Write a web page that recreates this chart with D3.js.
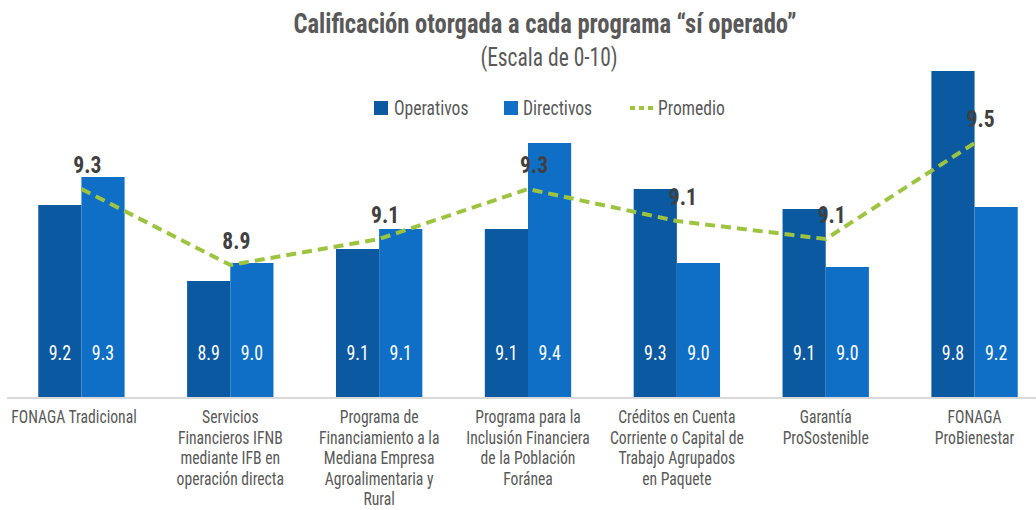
<!DOCTYPE html>
<html>
<head>
<meta charset="utf-8">
<script src="https://cdn.jsdelivr.net/npm/d3@7"></script>
<style>
  body { margin: 0; background: #fff; }
  svg text { font-family: "Roboto Condensed", Roboto, sans-serif; }
</style>
</head>
<body>
<div id="chart"></div>
<script>
// Datos
const categorias = [
  ["FONAGA Tradicional"],
  ["Servicios", "Financieros IFNB", "mediante IFB en", "operación directa"],
  ["Programa de", "Financiamiento a la", "Mediana Empresa", "Agroalimentaria y", "Rural"],
  ["Programa para la", "Inclusión Financiera", "de la Población", "Foránea"],
  ["Créditos en Cuenta", "Corriente o Capital de", "Trabajo Agrupados", "en Paquete"],
  ["Garantía", "ProSostenible"],
  ["FONAGA", "ProBienestar"]
];
const operativos = [9.21, 8.83, 8.99, 9.09, 9.29, 9.19, 9.88];
const directivos = [9.35, 8.92, 9.09, 9.52, 8.92, 8.90, 9.20];
const promedio = [9.29, 8.91, 9.04, 9.29, 9.13, 9.04, 9.52];
const etiquetasOperativos = ["9.2", "8.9", "9.1", "9.1", "9.3", "9.1", "9.8"];
const etiquetasDirectivos = ["9.3", "9.0", "9.1", "9.4", "9.0", "9.0", "9.2"];
const etiquetasPromedio = ["9.3", "8.9", "9.1", "9.3", "9.1", "9.1", "9.5"];
const series = ["Operativos", "Directivos"];

const width = 1036, height = 510;
const colores = { Operativos: "#0b59a1", Directivos: "#0f6fc6", Promedio: "#9dc441" };
const gris = "#595959";

const svg = d3.select("#chart").append("svg")
  .attr("width", width)
  .attr("height", height);

// Roboto Condensed no está instalada: se comprime Roboto a lo ancho
function comprimir(sel, s) {
  sel.each(function () {
    const t = d3.select(this);
    const x0 = +t.attr("x") || 0;
    t.attr("x", 0).attr("transform", `translate(${x0},0) scale(${s},1)`);
  });
}

// Escalas
const x = d3.scaleBand().domain(d3.range(categorias.length))
  .range([7, 1049]).paddingInner(0.42).paddingOuter(0.21);
const x1 = d3.scaleBand().domain(series).range([0, x.bandwidth()]);
const y = d3.scaleLinear().domain([8.25, 9.9]).range([397, 67]);

// Título
svg.append("text")
  .attr("x", 545).attr("y", 33)
  .attr("text-anchor", "middle")
  .attr("font-size", 27).attr("font-weight", "bold")
  .attr("fill", gris)
  .text("Calificación otorgada a cada programa “sí operado”")
  .call(comprimir, 0.91);
svg.append("text")
  .attr("x", 549).attr("y", 66)
  .attr("text-anchor", "middle")
  .attr("font-size", 25)
  .attr("fill", gris)
  .text("(Escala de 0-10)")
  .call(comprimir, 0.86);

// Leyenda
const leyenda = svg.append("g");
leyenda.append("rect").attr("x", 374).attr("y", 101).attr("width", 14).attr("height", 14).attr("fill", colores.Operativos);
leyenda.append("text").attr("x", 394).attr("y", 115).attr("font-size", 20).attr("fill", gris).text("Operativos");
leyenda.append("rect").attr("x", 504).attr("y", 101).attr("width", 14).attr("height", 14).attr("fill", colores.Directivos);
leyenda.append("text").attr("x", 523).attr("y", 115).attr("font-size", 20).attr("fill", gris).text("Directivos");
leyenda.append("line").attr("x1", 630).attr("x2", 653).attr("y1", 108).attr("y2", 108)
  .attr("stroke", colores.Promedio).attr("stroke-width", 4).attr("stroke-dasharray", "5,4");
leyenda.append("text").attr("x", 658).attr("y", 115).attr("font-size", 20).attr("fill", gris).text("Promedio");
leyenda.selectAll("text").call(comprimir, 0.88);

// Barras
const datos = categorias.map((c, i) => ({
  i,
  valores: [
    { serie: "Operativos", v: operativos[i], etiqueta: etiquetasOperativos[i] },
    { serie: "Directivos", v: directivos[i], etiqueta: etiquetasDirectivos[i] }
  ]
}));

const grupos = svg.selectAll(".grupo").data(datos).join("g")
  .attr("class", "grupo")
  .attr("transform", d => `translate(${x(d.i)},0)`);

grupos.selectAll("rect").data(d => d.valores).join("rect")
  .attr("x", d => x1(d.serie))
  .attr("y", d => y(d.v))
  .attr("width", x1.bandwidth())
  .attr("height", d => y.range()[0] - y(d.v))
  .attr("fill", d => colores[d.serie]);

grupos.selectAll(".etq").data(d => d.valores).join("text")
  .attr("class", "etq")
  .attr("x", d => x1(d.serie) + x1.bandwidth() / 2)
  .attr("y", 360)
  .attr("text-anchor", "middle")
  .attr("font-size", 21)
  .attr("fill", "#fff")
  .text(d => d.etiqueta)
  .call(comprimir, 0.85);

// Eje
svg.append("line")
  .attr("x1", 7).attr("x2", width)
  .attr("y1", 398).attr("y2", 398)
  .attr("stroke", "#d9d9d9").attr("stroke-width", 2);

// Etiquetas de categorías
categorias.forEach((lineas, i) => {
  const cx = Math.max(x(i) + x.bandwidth() / 2, 74);
  const t = svg.append("text")
    .attr("text-anchor", "middle")
    .attr("font-size", 18)
    .attr("fill", gris)
    .attr("transform", `translate(${i === 0 ? 74 : cx},0) scale(0.87,1)`);
  lineas.forEach((l, j) => {
    t.append("tspan")
      .attr("x", 0)
      .attr("y", 423 + j * 20.6)
      .text(l);
  });
});

// Línea de promedio
const linea = d3.line()
  .x((d, i) => x(i) + x.bandwidth() / 2)
  .y(d => y(d));

svg.append("path")
  .datum(promedio)
  .attr("d", linea)
  .attr("fill", "none")
  .attr("stroke", colores.Promedio)
  .attr("stroke-width", 4)
  .attr("stroke-dasharray", "10,6");

svg.selectAll(".etqProm").data(promedio).join("text")
  .attr("class", "etqProm")
  .attr("x", (d, i) => x(i) + x.bandwidth() / 2 + 6)
  .attr("y", d => y(d) - 16)
  .attr("text-anchor", "middle")
  .attr("font-size", 24).attr("font-weight", "bold")
  .attr("fill", "#404040")
  .text((d, i) => etiquetasPromedio[i])
  .call(comprimir, 0.9);
</script>
</body>
</html>
